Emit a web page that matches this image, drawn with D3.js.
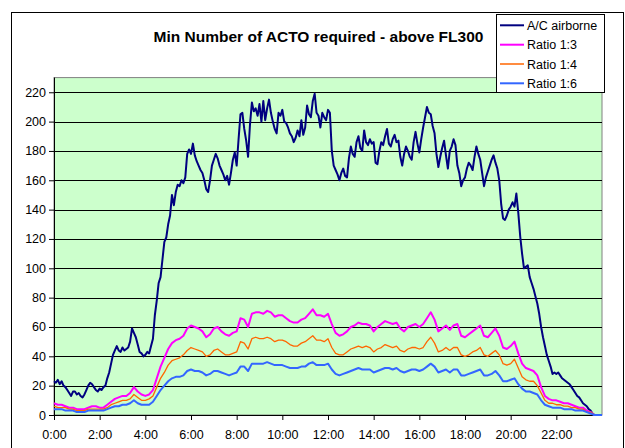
<!DOCTYPE html>
<html>
<head>
<meta charset="utf-8">
<script src="https://cdn.jsdelivr.net/npm/d3@7"></script>
<style>
  html, body { margin: 0; padding: 0; background: #ffffff; }
  svg { display: block; font-family: "Liberation Sans", Arial, sans-serif; }
</style>
</head>
<body>
<svg id="chart" width="625" height="448"></svg>
<script>
// ---- data ----
const titleText = "Min Number of ACTO required - above FL300";
const seriesNames = ["A/C airborne", "Ratio 1:3", "Ratio 1:4", "Ratio 1:6"];
const seriesColors = ["#000080", "#FF00FF", "#FF6600", "#3366FF"];
const xTickLabels = ["0:00","2:00","4:00","6:00","8:00","10:00","12:00","14:00","16:00","18:00","20:00","22:00"];
const yTickValues = [0,20,40,60,80,100,120,140,160,180,200,220];

// A/C airborne, one value every 5 minutes from 0:00 to 24:00
const airborneStepMin = 5;
const airborne = [
  23,22,24,21,23,20,19,17,15,13,16,16,
  14,15,13,12,14,17,20,22,21,19,17,16,
  18,17,19,20,25,29,35,41,44,47,44,43,
  46,44,45,46,50,59,56,53,48,43,42,40,
  41,43,42,47,52,68,78,90,94,106,118,121,
  130,136,150,143,152,157,156,160,158,162,178,181,
  178,185,177,173,170,167,165,160,154,152,160,170,
  174,178,175,170,167,164,160,163,157,165,174,179,
  170,188,205,206,195,187,176,198,213,207,209,204,
  212,200,214,201,209,215,206,200,195,192,206,204,
  208,200,199,196,192,190,186,189,194,190,201,191,
  196,211,205,203,214,219,206,204,196,206,203,201,
  208,206,180,170,167,164,160,165,168,163,162,175,
  183,178,176,186,190,182,180,194,186,184,188,185,
  186,172,171,180,186,184,190,195,185,183,188,191,
  186,187,176,170,178,183,180,176,174,186,193,185,
  179,188,196,203,210,206,205,197,192,178,169,176,
  182,187,177,168,180,183,188,184,170,165,156,160,
  162,168,172,170,167,176,183,178,174,165,156,162,
  166,170,174,177,172,168,160,144,134,133,136,140,
  142,145,142,151,138,122,110,100,101,102,94,90,
  86,81,76,69,60,53,47,41,37,33,28,29,
  28,29,27,25,24,23,22,21,19,17,15,13,
  12,10,8,7,6,4,3,1,0,0,0,0,
  0
];

// Ratio series, one value every 10 minutes from 0:00 to 24:00
const ratioStepMin = 10;
const ratio13 = [
  8,7,7,6,5,5,
  4,4,4,5,6,6,
  5,5,7,9,11,12,
  13,13,15,19,16,14,
  13,14,17,25,33,39,
  45,49,51,52,54,59,
  61,60,59,57,53,55,
  59,60,57,55,54,56,
  57,66,65,60,69,70,
  70,69,71,70,67,68,
  68,66,64,63,63,65,
  66,69,72,68,68,67,
  69,62,56,54,55,57,
  60,61,63,62,62,61,
  57,60,62,64,63,62,
  63,59,57,60,61,62,
  60,62,66,70,65,57,
  59,61,58,61,62,54,
  53,55,57,59,61,54,
  53,56,59,54,46,45,
  47,50,42,35,32,31,
  30,27,19,13,11,10,
  10,9,8,8,7,6,
  5,5,3,2,0,0,
  0
];
const ratio14 = [
  6,5,5,5,4,4,
  3,3,3,4,4,4,
  4,4,5,7,8,9,
  10,10,11,14,12,10,
  10,11,13,19,25,29,
  34,37,38,39,41,44,
  46,45,44,43,40,41,
  44,45,43,41,41,42,
  43,50,49,45,52,53,
  52,52,53,52,50,51,
  51,50,48,47,47,49,
  50,52,54,51,51,50,
  52,46,42,41,41,43,
  45,46,47,46,47,46,
  43,45,46,48,47,46,
  47,44,43,45,46,46,
  45,46,50,53,49,43,
  44,46,44,46,46,41,
  40,41,43,44,46,41,
  40,42,44,41,35,34,
  35,38,32,26,24,23,
  23,20,15,10,8,8,
  7,7,6,6,5,5,
  4,4,2,2,0,0,
  0
];
const ratio16 = [
  4,4,4,3,3,3,
  2,2,2,3,3,3,
  3,3,4,5,6,6,
  7,7,8,10,8,7,
  7,7,9,13,17,20,
  23,25,26,26,27,30,
  31,30,30,29,27,28,
  30,30,29,28,27,28,
  29,33,33,30,35,35,
  35,35,36,35,34,34,
  34,33,32,32,32,33,
  33,35,36,34,34,34,
  35,31,28,27,28,29,
  30,31,32,31,31,31,
  29,30,31,32,32,31,
  32,30,29,30,31,31,
  30,31,33,35,33,29,
  30,31,29,31,31,27,
  27,28,29,30,31,27,
  27,28,30,27,23,23,
  24,25,21,18,16,16,
  15,14,10,7,6,5,
  5,5,4,4,4,3,
  3,3,2,1,0,0,
  0
];

// ---- layout ----
const svg = d3.select("#chart");
const plot = { left: 54, right: 602, top: 77.6, bottom: 415 };

const x = d3.scaleLinear().domain([0, 24 * 60]).range([plot.left, plot.right]);
const y = d3.scaleLinear().domain([0, 230]).range([plot.bottom, plot.top]);

// chart area border
svg.append("rect")
  .attr("x", 11.5).attr("y", 12.5)
  .attr("width", 612).attr("height", 460)
  .attr("fill", "#ffffff").attr("stroke", "#000000").attr("stroke-width", 1);

// plot area
svg.append("rect")
  .attr("x", plot.left).attr("y", plot.top)
  .attr("width", plot.right - plot.left).attr("height", plot.bottom - plot.top)
  .attr("fill", "#CCFFCC").attr("stroke", "#808080").attr("stroke-width", 1);

// gridlines
svg.append("g")
  .selectAll("line")
  .data(yTickValues.filter(v => v > 0))
  .join("line")
  .attr("x1", plot.left).attr("x2", plot.right)
  .attr("y1", d => Math.round(y(d)) + 0.5).attr("y2", d => Math.round(y(d)) + 0.5)
  .attr("stroke", "#000000").attr("stroke-width", 1);

// y axis
const yAxis = d3.axisLeft(y).tickValues(yTickValues).tickSize(5).tickPadding(3).tickFormat(d3.format("d"));
const gy = svg.append("g").attr("transform", `translate(${plot.left},0)`).call(yAxis);
gy.select(".domain").attr("stroke", "#000").attr("d", `M0.5,${plot.top}V${plot.bottom}`);
gy.selectAll(".tick line").attr("stroke", "#000");
gy.selectAll(".tick text").attr("font-size", "12.5px").attr("fill", "#000")
  .attr("font-family", "'Liberation Sans', Arial, sans-serif");

// x axis
const xTickValues = xTickLabels.map((_, i) => i * 120);
const xAxis = d3.axisBottom(x).tickValues(xTickValues).tickSize(5).tickPadding(10)
  .tickFormat((d, i) => xTickLabels[i]);
const gx = svg.append("g").attr("transform", `translate(0,${plot.bottom})`).call(xAxis);
gx.select(".domain").attr("stroke", "#000").attr("d", `M${plot.left},0.5H${plot.right}`);
gx.selectAll(".tick line").attr("stroke", "#000");
gx.selectAll(".tick text").attr("font-size", "12.5px").attr("fill", "#000")
  .attr("font-family", "'Liberation Sans', Arial, sans-serif");

// series lines
const seriesData = [
  { values: airborne, step: airborneStepMin, width: 2 },
  { values: ratio13, step: ratioStepMin, width: 2 },
  { values: ratio14, step: ratioStepMin, width: 1.3 },
  { values: ratio16, step: ratioStepMin, width: 2 }
];
const line = d3.line().x(d => d[0]).y(d => d[1]);
const gLines = svg.append("g");
seriesData.forEach((s, si) => {
  const pts = s.values.map((v, i) => [x(i * s.step), y(v)]);
  gLines.append("path")
    .attr("d", line(pts))
    .attr("fill", "none")
    .attr("stroke", seriesColors[si])
    .attr("stroke-width", s.width)
    .attr("stroke-linejoin", "round");
});

// title
svg.append("text")
  .attr("x", 318.5).attr("y", 41.5)
  .attr("text-anchor", "middle")
  .attr("font-size", "15.5px").attr("font-weight", "bold")
  .attr("fill", "#000")
  .text(titleText);

// legend
const lg = svg.append("g");
lg.append("rect")
  .attr("x", 496.5).attr("y", 14.5).attr("width", 108).attr("height", 78)
  .attr("fill", "#ffffff").attr("stroke", "#000000").attr("stroke-width", 1);
const rowY = [25.3, 44.7, 64, 83.3];
seriesNames.forEach((name, i) => {
  lg.append("line")
    .attr("x1", 500).attr("x2", 524)
    .attr("y1", rowY[i]).attr("y2", rowY[i])
    .attr("stroke", seriesColors[i]).attr("stroke-width", i === 2 ? 1.5 : 2);
  lg.append("text")
    .attr("x", 527).attr("y", rowY[i] + 4.5)
    .attr("font-size", "12.5px").attr("fill", "#000")
    .text(name);
});
</script>
</body>
</html>
